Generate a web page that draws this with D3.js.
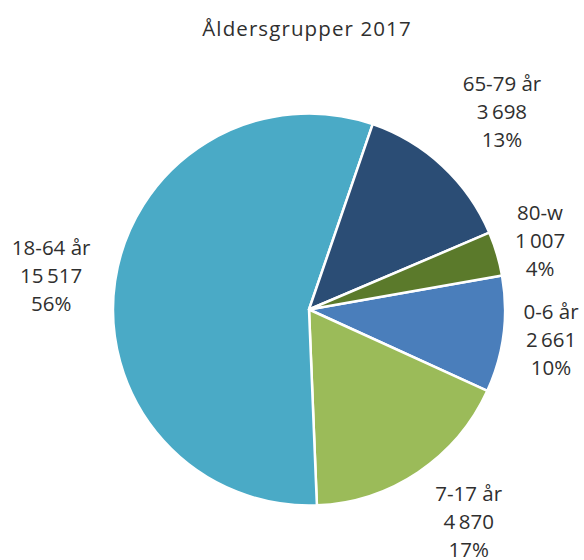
<html>
<script src='https://d3js.org/d3.v7.min.js'></script>
<style>
body {margin:0; background:#fff;}
text {font-family: 'Open Sans', 'DejaVu Sans', sans-serif; fill:#2f2f2f;}
</style>
<body>
<svg width=584 height=560></svg>
<script>
var categories = ['0-6 år','7-17 år','18-64 år','65-79 år','80-w'];
var values = [2661, 4870, 15517, 3698, 1007];
var pctLabels = ['10%','17%','56%','13%','4%'];
var colors = ['#4a7ebb','#9bbb59','#4aaac6','#2b4d75','#5b7a2b'];

// label distance from centre and small angle nudge (deg), Excel style outside labels
var labelR = [244, 266, 260, 276, 241];
var labelNudge = [0, -3, -1, 1.4, 0];

var cx = 309, cy = 309.5, r = 196;
var fmt = d3.formatLocale({decimal:',', thousands:'\u2009', grouping:[3], currency:['','']}).format(',d');

var svg = d3.select('svg');

svg.append('text')
  .attr('x', 307).attr('y', 36)
  .attr('text-anchor','middle')
  .style('font-size','20.5px')
  .style('letter-spacing','1.1px')
  .text('Åldersgrupper 2017');

var pie = d3.pie().sort(null).value(function(d){return d;})
  .startAngle(80 * Math.PI/180).endAngle(440 * Math.PI/180);
var arcs = pie(values);
var arc = d3.arc().innerRadius(0).outerRadius(r);

var g = svg.append('g').attr('transform','translate('+cx+','+cy+')');
g.selectAll('path').data(arcs).enter().append('path')
  .attr('d', arc)
  .attr('fill', function(d,i){return colors[i];})
  .attr('stroke','#fff')
  .attr('stroke-width',2.5)
  .attr('stroke-linejoin','round');

var lab = g.selectAll('g.lab').data(arcs).enter().append('g')
  .attr('class','lab')
  .attr('transform', function(d,i){
    var a = (d.startAngle + d.endAngle)/2 + labelNudge[i]*Math.PI/180;
    var x = Math.sin(a)*labelR[i], y = -Math.cos(a)*labelR[i];
    return 'translate('+x+','+y+')';
  });

lab.each(function(d,i){
  var lines = [categories[i], fmt(values[i]), pctLabels[i]];
  d3.select(this).selectAll('text').data(lines).enter().append('text')
    .attr('text-anchor','middle')
    .attr('y', function(t,j){return (j-1)*28 + 7;})
    .style('font-size','20.5px')
    .text(function(t){return t;});
});
</script>
</body>
</html>
